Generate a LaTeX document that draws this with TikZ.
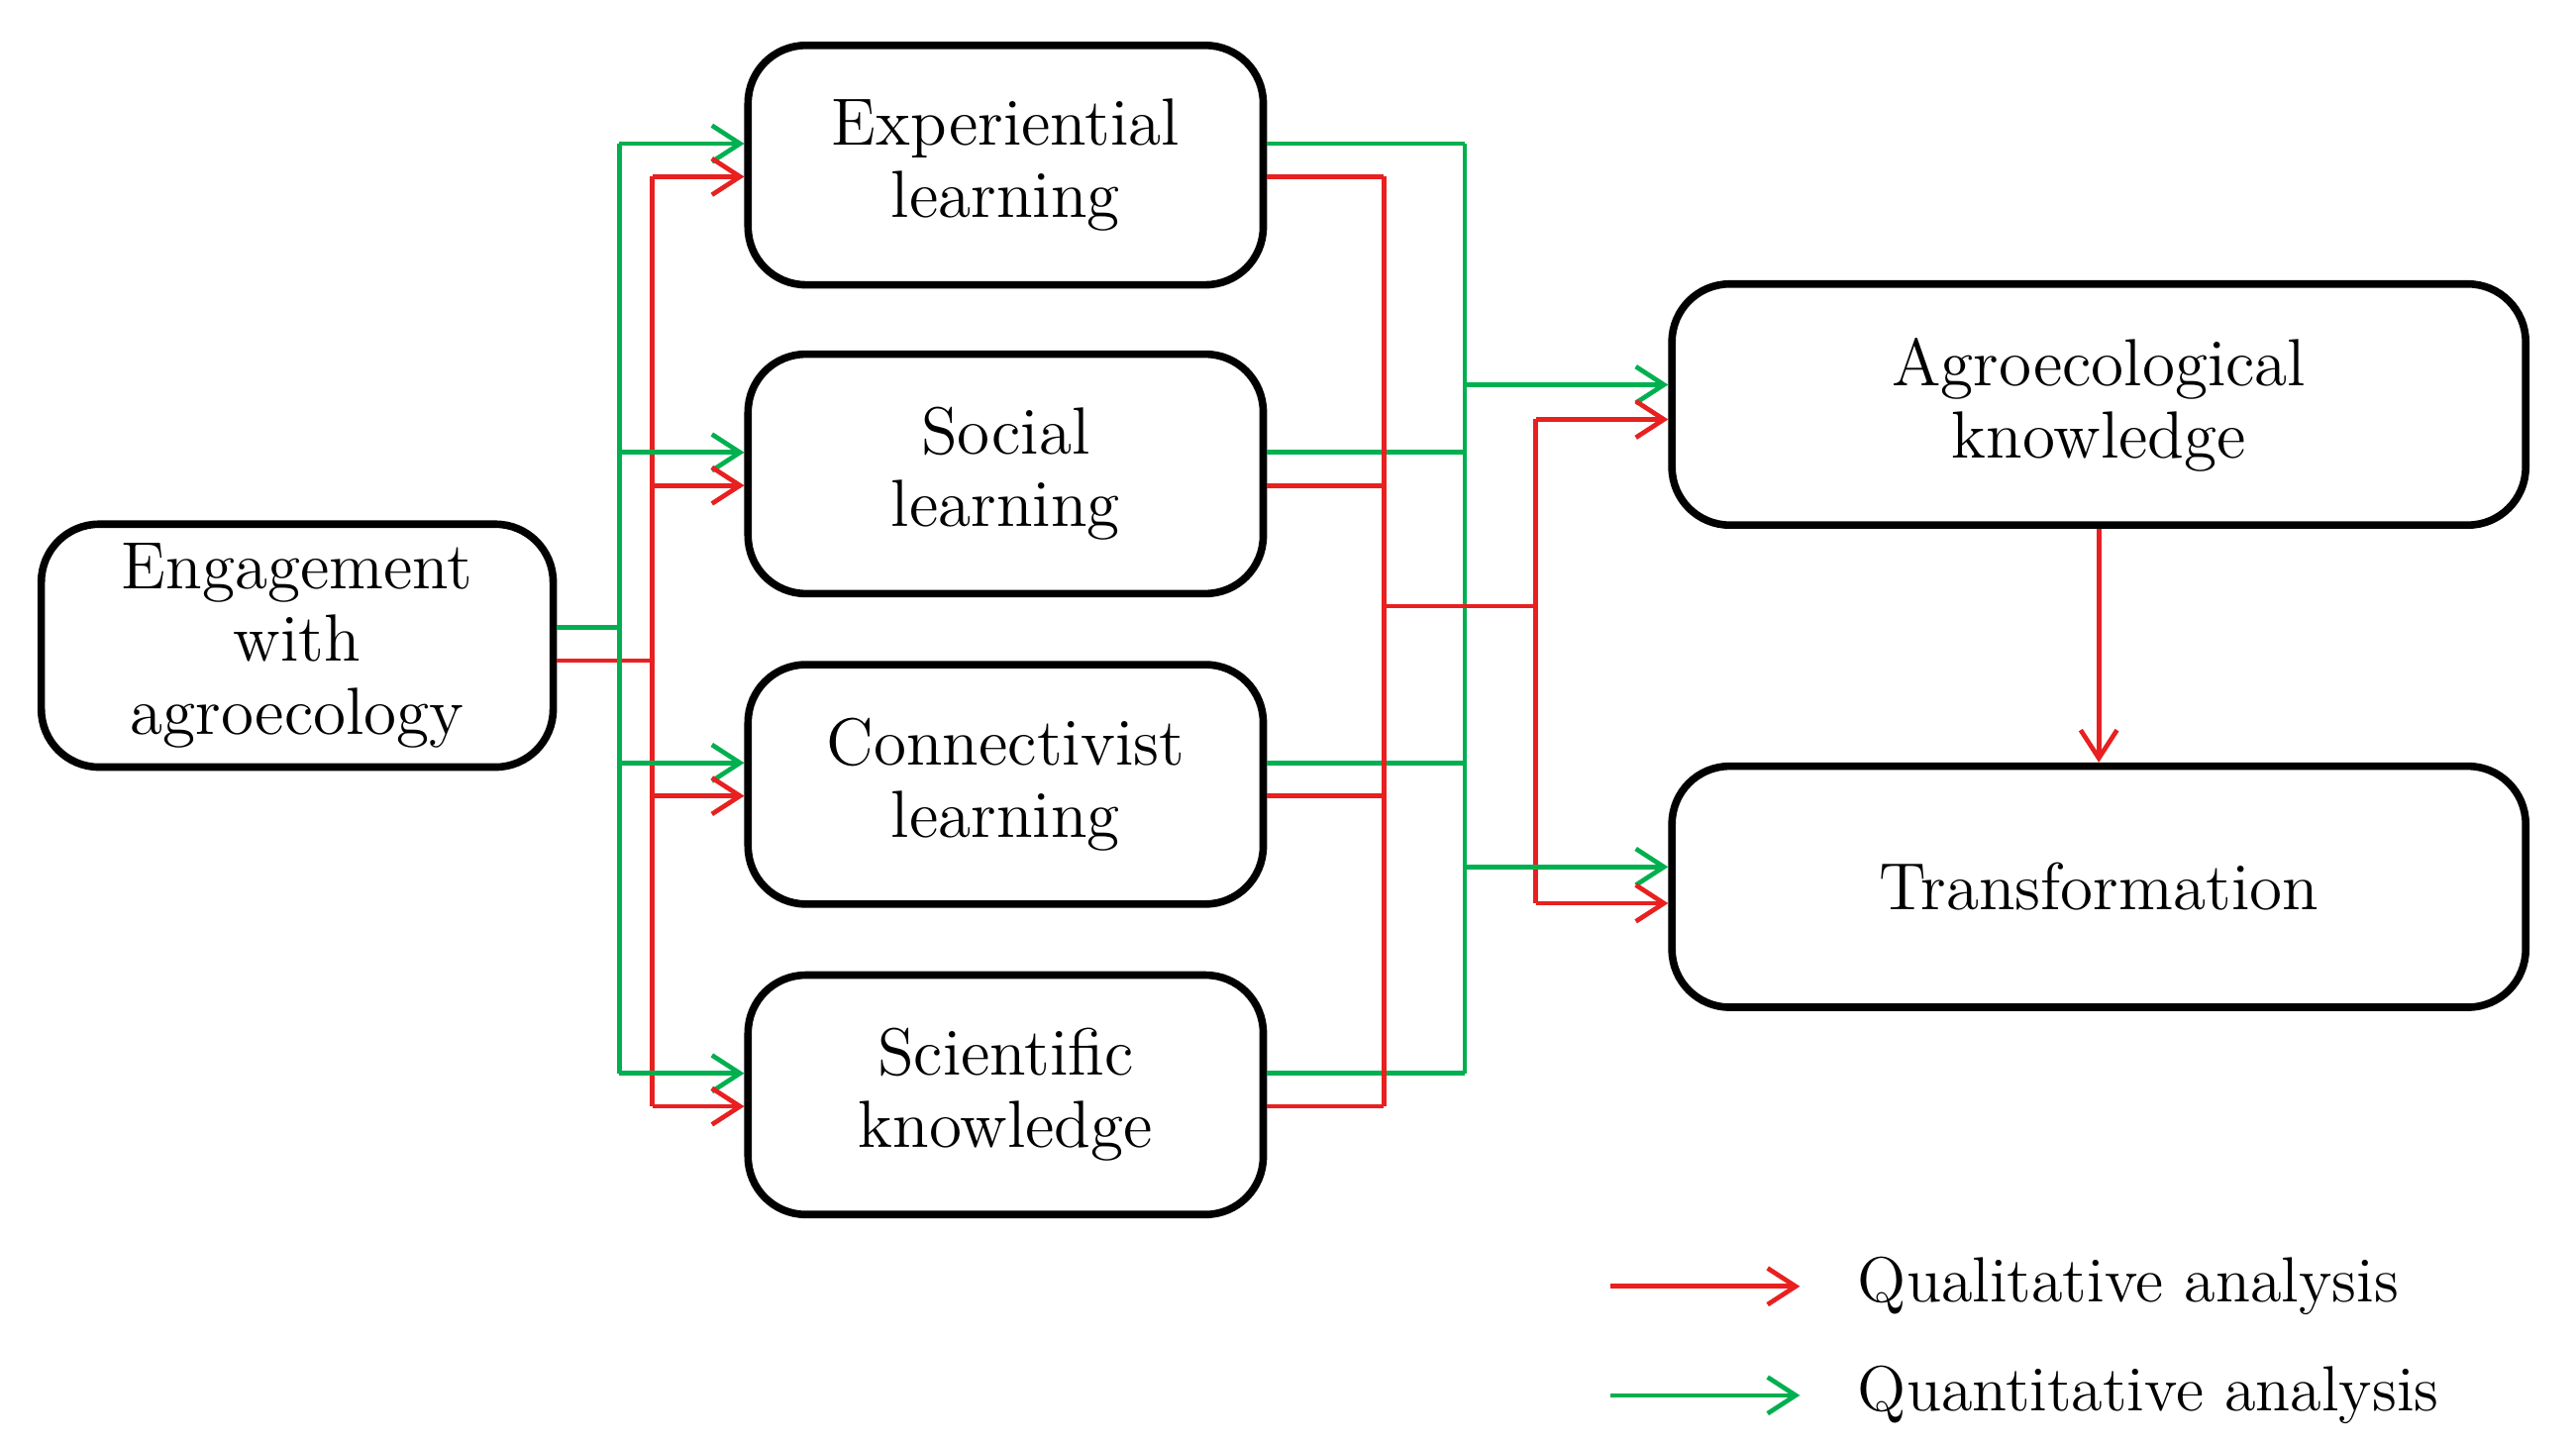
\documentclass[tikz,border=0pt]{standalone}
\usepackage{tikz}
\usepackage{xcolor}
\usetikzlibrary{arrows.meta}
\usetikzlibrary{positioning}

\begin{document}
\begin{tikzpicture}[
		box/.style={draw, line width=1.3pt, rounded corners=3.5mm, align=center,
			font=\fontsize{11.5}{12.5}\selectfont},
		qual/.style={draw=QUAL_RED, line width=0.8pt},
		quan/.style={draw=QUAN_GREEN, line width=0.8pt},
		tip/.style={-{Straight Barb[length=1.7mm,width=2.2mm]}}]
	\definecolor{QUAL_RED}{RGB}{232, 32, 32}
	\definecolor{QUAN_GREEN}{RGB}{0, 176, 80}
	\useasboundingbox (0,0) rectangle (15.6,8.75);

	% nodes
	\node[box, minimum width=3.1cm, minimum height=1.47cm] (eng) at (1.80,4.84) {Engagement\\with\\agroecology};
	\node[box, minimum width=3.12cm, minimum height=1.45cm] (exp) at (6.09,7.75) {Experiential\\learning};
	\node[box, minimum width=3.12cm, minimum height=1.45cm] (soc) at (6.09,5.88) {Social\\learning};
	\node[box, minimum width=3.12cm, minimum height=1.45cm] (con) at (6.09,4.00) {Connectivist\\learning};
	\node[box, minimum width=3.12cm, minimum height=1.45cm] (sci) at (6.09,2.12) {Scientific\\knowledge};
	\node[box, minimum width=5.17cm, minimum height=1.46cm] (agro) at (12.71,6.30) {Agroecological\\knowledge};
	\node[box, minimum width=5.17cm, minimum height=1.46cm] (trans) at (12.71,3.38) {Transformation};

	% bus coordinates
	\coordinate (gl) at (3.75,0);
	\coordinate (rl) at (3.95,0);
	\coordinate (rr) at (8.38,0);
	\coordinate (gr) at (8.87,0);
	\coordinate (rj) at (9.30,0);

	% left fan-out
	\draw[quan] (eng.east |- 0,4.95) -- (gl |- 0,4.95);
	\draw[qual] (eng.east |- 0,4.75) -- (rl |- 0,4.75);
	\draw[quan] ([yshift=1.3mm]exp.west -| gl) -- ([yshift=1.3mm]sci.west -| gl);
	\draw[qual] ([yshift=-0.7mm]exp.west -| rl) -- ([yshift=-0.7mm]sci.west -| rl);
	\foreach \b in {exp, soc, con, sci} {
		\draw[quan, tip] ([yshift=1.3mm]\b.west -| gl) -- ([yshift=1.3mm]\b.west);
		\draw[qual, tip] ([yshift=-0.7mm]\b.west -| rl) -- ([yshift=-0.7mm]\b.west);
		\draw[quan] ([yshift=1.3mm]\b.east) -- ([yshift=1.3mm]\b.east -| gr);
		\draw[qual] ([yshift=-0.7mm]\b.east) -- ([yshift=-0.7mm]\b.east -| rr);
	}

	% right fan-in
	\draw[quan] ([yshift=1.3mm]exp.east -| gr) -- ([yshift=1.3mm]sci.east -| gr);
	\draw[qual] ([yshift=-0.7mm]exp.east -| rr) -- ([yshift=-0.7mm]sci.east -| rr);
	\draw[qual] (rr |- 0,5.08) -- (rj |- 0,5.08);
	\draw[qual] ([yshift=-0.9mm]agro.west -| rj) -- ([yshift=-1mm]trans.west -| rj);
	\draw[quan, tip] ([yshift=1.2mm]agro.west -| gr) -- ([yshift=1.2mm]agro.west);
	\draw[quan, tip] ([yshift=1.2mm]trans.west -| gr) -- ([yshift=1.2mm]trans.west);
	\draw[qual, tip] ([yshift=-0.9mm]agro.west -| rj) -- ([yshift=-0.9mm]agro.west);
	\draw[qual, tip] ([yshift=-1mm]trans.west -| rj) -- ([yshift=-1mm]trans.west);
	\draw[qual, tip] (agro.south) -- (trans.north);

	% legend
	\coordinate (ra) at (9.75,0.96);
	\coordinate (ga) at (9.75,0.30);
	\draw[qual, tip] (ra) -- ++(1.15,0) node[right=2.2mm, text=black, font=\fontsize{11}{11}\selectfont] (qtext) {Qualitative analysis};
	\draw[quan, tip] (ga) -- ++(1.15,0) node[right=2.2mm, text=black, font=\fontsize{11}{11}\selectfont] (ntext) {Quantitative analysis};
\end{tikzpicture}
\end{document}
